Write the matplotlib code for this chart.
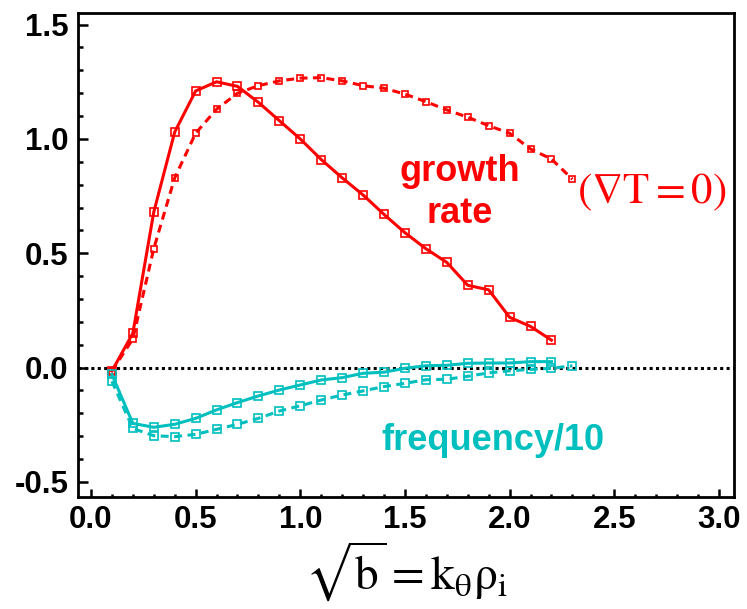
import matplotlib
matplotlib.use("Agg")
import matplotlib.pyplot as plt
from matplotlib.ticker import MultipleLocator

# k_theta rho_i sample points (solid = full case, dashed = grad T = 0)
k_solid = [0.1, 0.2, 0.3, 0.4, 0.5, 0.6, 0.7, 0.8, 0.9, 1.0, 1.1,
           1.2, 1.3, 1.4, 1.5, 1.6, 1.7, 1.8, 1.9, 2.0, 2.1, 2.2]
growth_solid = [-0.015, 0.15, 0.68, 1.03, 1.21, 1.25, 1.23, 1.16, 1.08, 1.00, 0.91,
                0.83, 0.755, 0.67, 0.59, 0.52, 0.46, 0.36, 0.34, 0.22, 0.18, 0.12]
freq_solid = [-0.03, -0.244, -0.261, -0.248, -0.222, -0.185, -0.153, -0.124, -0.098, -0.076, -0.054,
              -0.044, -0.025, -0.02, -0.003, 0.008, 0.01, 0.019, 0.02, 0.02, 0.026, 0.026]

k_dash = [0.1, 0.2, 0.3, 0.4, 0.5, 0.6, 0.7, 0.8, 0.9, 1.0, 1.1, 1.2,
          1.3, 1.4, 1.5, 1.6, 1.7, 1.8, 1.9, 2.0, 2.1, 2.2, 2.3]
growth_dash = [-0.015, 0.125, 0.52, 0.83, 1.025, 1.13, 1.20, 1.233, 1.254, 1.266, 1.268, 1.254,
               1.233, 1.222, 1.196, 1.163, 1.127, 1.095, 1.058, 1.025, 0.956, 0.912, 0.824]
freq_dash = [-0.06, -0.266, -0.298, -0.302, -0.292, -0.27, -0.248, -0.222, -0.19, -0.167, -0.142, -0.12,
             -0.102, -0.083, -0.069, -0.053, -0.051, -0.038, -0.023, -0.014, -0.008, -0.003, 0.008]

red = "#ff0000"
cyan = "#00bfbf"

plt.rcParams["font.family"] = "Liberation Sans"
plt.rcParams["mathtext.fontset"] = "stix"
plt.rcParams["axes.unicode_minus"] = False

fig = plt.figure(figsize=(7.47, 6.09), dpi=100)
ax = fig.add_axes([0.1044, 0.1839, 0.8782, 0.7948])

ax.axhline(0, color="black", lw=2.2, ls=(0, (1, 1.1)), zorder=1)

# growth rate
ax.plot(k_dash, growth_dash, color=red, lw=2.2, dashes=(2.6, 1.8), marker="s", ms=5,
        mfc="none", mec=red, mew=1.2)
ax.plot(k_solid, growth_solid, color=red, lw=2.2, marker="s", ms=6,
        mfc="none", mec=red, mew=1.2)

# real frequency / 10
ax.plot(k_dash, freq_dash, color=cyan, lw=2.2, dashes=(2.6, 1.8), marker="s", ms=5.5,
        mfc="none", mec=cyan, mew=1.2)
ax.plot(k_solid, freq_solid, color=cyan, lw=2.2, marker="s", ms=6,
        mfc="none", mec=cyan, mew=1.2)

ax.text(1.763, 0.765, "growth\nrate", color=red, fontsize=26, fontweight="bold",
        ha="center", va="center", linespacing=1.25)
ax.text(1.92, -0.317, "frequency/10", color=cyan, fontsize=26, fontweight="bold",
        ha="center", va="center")
ax.text(2.68, 0.767, r"$(\nabla \mathrm{T} = 0)$", color=red, fontsize=31,
        ha="center", va="center")

ax.set_xlim(-0.062, 3.072)
ax.set_ylim(-0.566, 1.551)
ax.xaxis.set_major_locator(MultipleLocator(0.5))
ax.xaxis.set_minor_locator(MultipleLocator(0.1))
ax.yaxis.set_major_locator(MultipleLocator(0.5))
ax.yaxis.set_minor_locator(MultipleLocator(0.1))
ax.tick_params(which="both", direction="in", top=False, right=False, width=1.8,
               labelsize=22.5)
ax.tick_params(axis="x", which="major", length=5.5, pad=6)
ax.tick_params(axis="x", which="minor", length=2.5)
ax.tick_params(axis="y", which="major", length=7, pad=7)
ax.tick_params(axis="y", which="minor", length=3.5)
for lab in ax.get_xticklabels() + ax.get_yticklabels():
    lab.set_fontweight("bold")
for sp in ax.spines.values():
    sp.set_linewidth(2)

ax.set_xlabel(r"$\sqrt{\mathrm{b}} = \mathrm{k_{\theta}\rho_i}$", fontsize=34, labelpad=3)

fig.savefig("out.png", dpi=100)
